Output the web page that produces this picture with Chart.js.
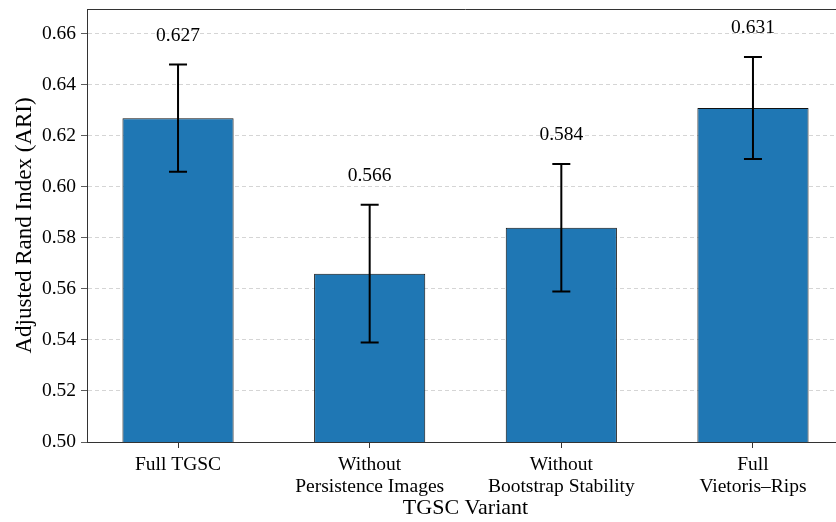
<!DOCTYPE html>
<html>
<head>
<meta charset="utf-8">
<script src="https://cdn.jsdelivr.net/npm/chart.js@4.4.1/dist/chart.umd.min.js"></script>
<style>
  html, body { margin: 0; padding: 0; background: #fff; overflow: hidden; }
</style>
</head>
<body>
<!-- plot runs a little past the right edge of the window, as in the reference -->
<canvas id="chart" width="844" height="522"></canvas>
<script>
// data
const variants = [
  ['Full TGSC'],
  ['Without', 'Persistence Images'],
  ['Without', 'Bootstrap Stability'],
  ['Full', 'Vietoris\u2013Rips']
];
const ariMean = [0.627, 0.566, 0.584, 0.631];
const ariErr = [0.021, 0.027, 0.025, 0.020];
const yTicks = [0.50, 0.52, 0.54, 0.56, 0.58, 0.60, 0.62, 0.64, 0.66];

const SERIF = "'Liberation Serif', 'Times New Roman', serif";
const SPINE = '#333333';
Chart.defaults.font.family = SERIF;
Chart.defaults.color = '#000';

const topSpine = {
  id: 'topSpine',
  afterDraw(chart) {
    const { ctx, chartArea } = chart;
    ctx.save();
    ctx.strokeStyle = SPINE;
    ctx.lineWidth = 1;
    ctx.beginPath();
    ctx.moveTo(chartArea.left, chartArea.top + 0.5);
    ctx.lineTo(chartArea.right, chartArea.top + 0.5);
    ctx.stroke();
    ctx.restore();
  }
};

const errorBars = {
  id: 'errorBars',
  afterDatasetsDraw(chart) {
    const { ctx } = chart;
    const xs = chart.scales.x, ys = chart.scales.y;
    ctx.save();
    ctx.strokeStyle = '#000';
    ctx.lineWidth = 2;
    ariMean.forEach((m, i) => {
      const x = xs.getPixelForValue(i);
      const yHi = ys.getPixelForValue(m + ariErr[i]);
      const yLo = ys.getPixelForValue(m - ariErr[i]);
      ctx.beginPath();
      ctx.moveTo(x, yHi); ctx.lineTo(x, yLo);
      ctx.moveTo(x - 9, yHi); ctx.lineTo(x + 9, yHi);
      ctx.moveTo(x - 9, yLo); ctx.lineTo(x + 9, yLo);
      ctx.stroke();
    });
    // value labels above the caps
    ctx.fillStyle = '#000';
    ctx.font = '19.5px ' + SERIF;
    ctx.textAlign = 'center';
    ctx.textBaseline = 'alphabetic';
    ariMean.forEach((m, i) => {
      const x = xs.getPixelForValue(i);
      const y = ys.getPixelForValue(m + ariErr[i] + 0.0093);
      ctx.fillText(m.toFixed(3), x, y);
    });
    ctx.restore();
  }
};

new Chart(document.getElementById('chart'), {
  type: 'bar',
  data: {
    datasets: [{
      data: ariMean.map((v, i) => ({ x: i, y: v })),
      backgroundColor: '#1f77b4',
      borderColor: '#111111',
      borderWidth: 1,
      borderSkipped: false,
      categoryPercentage: 1,
      barPercentage: 0.58
    }]
  },
  options: {
    responsive: false,
    animation: false,
    devicePixelRatio: 1,
    layout: { padding: { left: 7, top: 9, right: 0, bottom: 0 } },
    plugins: { legend: { display: false }, tooltip: { enabled: false } },
    scales: {
      x: {
        type: 'linear',
        offset: false,
        min: -0.475,
        max: 3.475,
        afterBuildTicks: s => { s.ticks = variants.map((_, i) => ({ value: i })); },
        afterFit: s => { s.height = 80; s.paddingLeft = 0; s.paddingRight = 0; },
        ticks: {
          callback: v => variants[v],
          font: { size: 19.5, lineHeight: 1.13 },
          color: '#000',
          maxRotation: 0,
          autoSkip: false,
          padding: 6
        },
        grid: { offset: false, drawOnChartArea: false, drawTicks: true, tickLength: 6, tickColor: SPINE },
        border: { color: SPINE, width: 1 },
        title: { display: true, text: 'TGSC Variant', font: { size: 22, lineHeight: 0.85 }, color: '#000' }
      },
      y: {
        min: 0.5,
        max: 0.6698,
        afterBuildTicks: s => { s.ticks = yTicks.map(v => ({ value: v })); },
        afterFit: s => { s.width = 80; s.paddingTop = 0; s.paddingBottom = 0; },
        ticks: {
          callback: v => v.toFixed(2),
          font: { size: 19.5 },
          color: '#000',
          padding: 5
        },
        grid: { color: 'rgba(180,180,180,0.7)', lineWidth: 0.8, tickLength: 6, tickColor: SPINE, tickBorderDash: [] },
        border: { color: SPINE, width: 1, dash: [4, 3] },
        title: { display: true, text: 'Adjusted Rand Index (ARI)', font: { size: 23 }, color: '#000' }
      }
    }
  },
  plugins: [topSpine, errorBars]
});
</script>
</body>
</html>
